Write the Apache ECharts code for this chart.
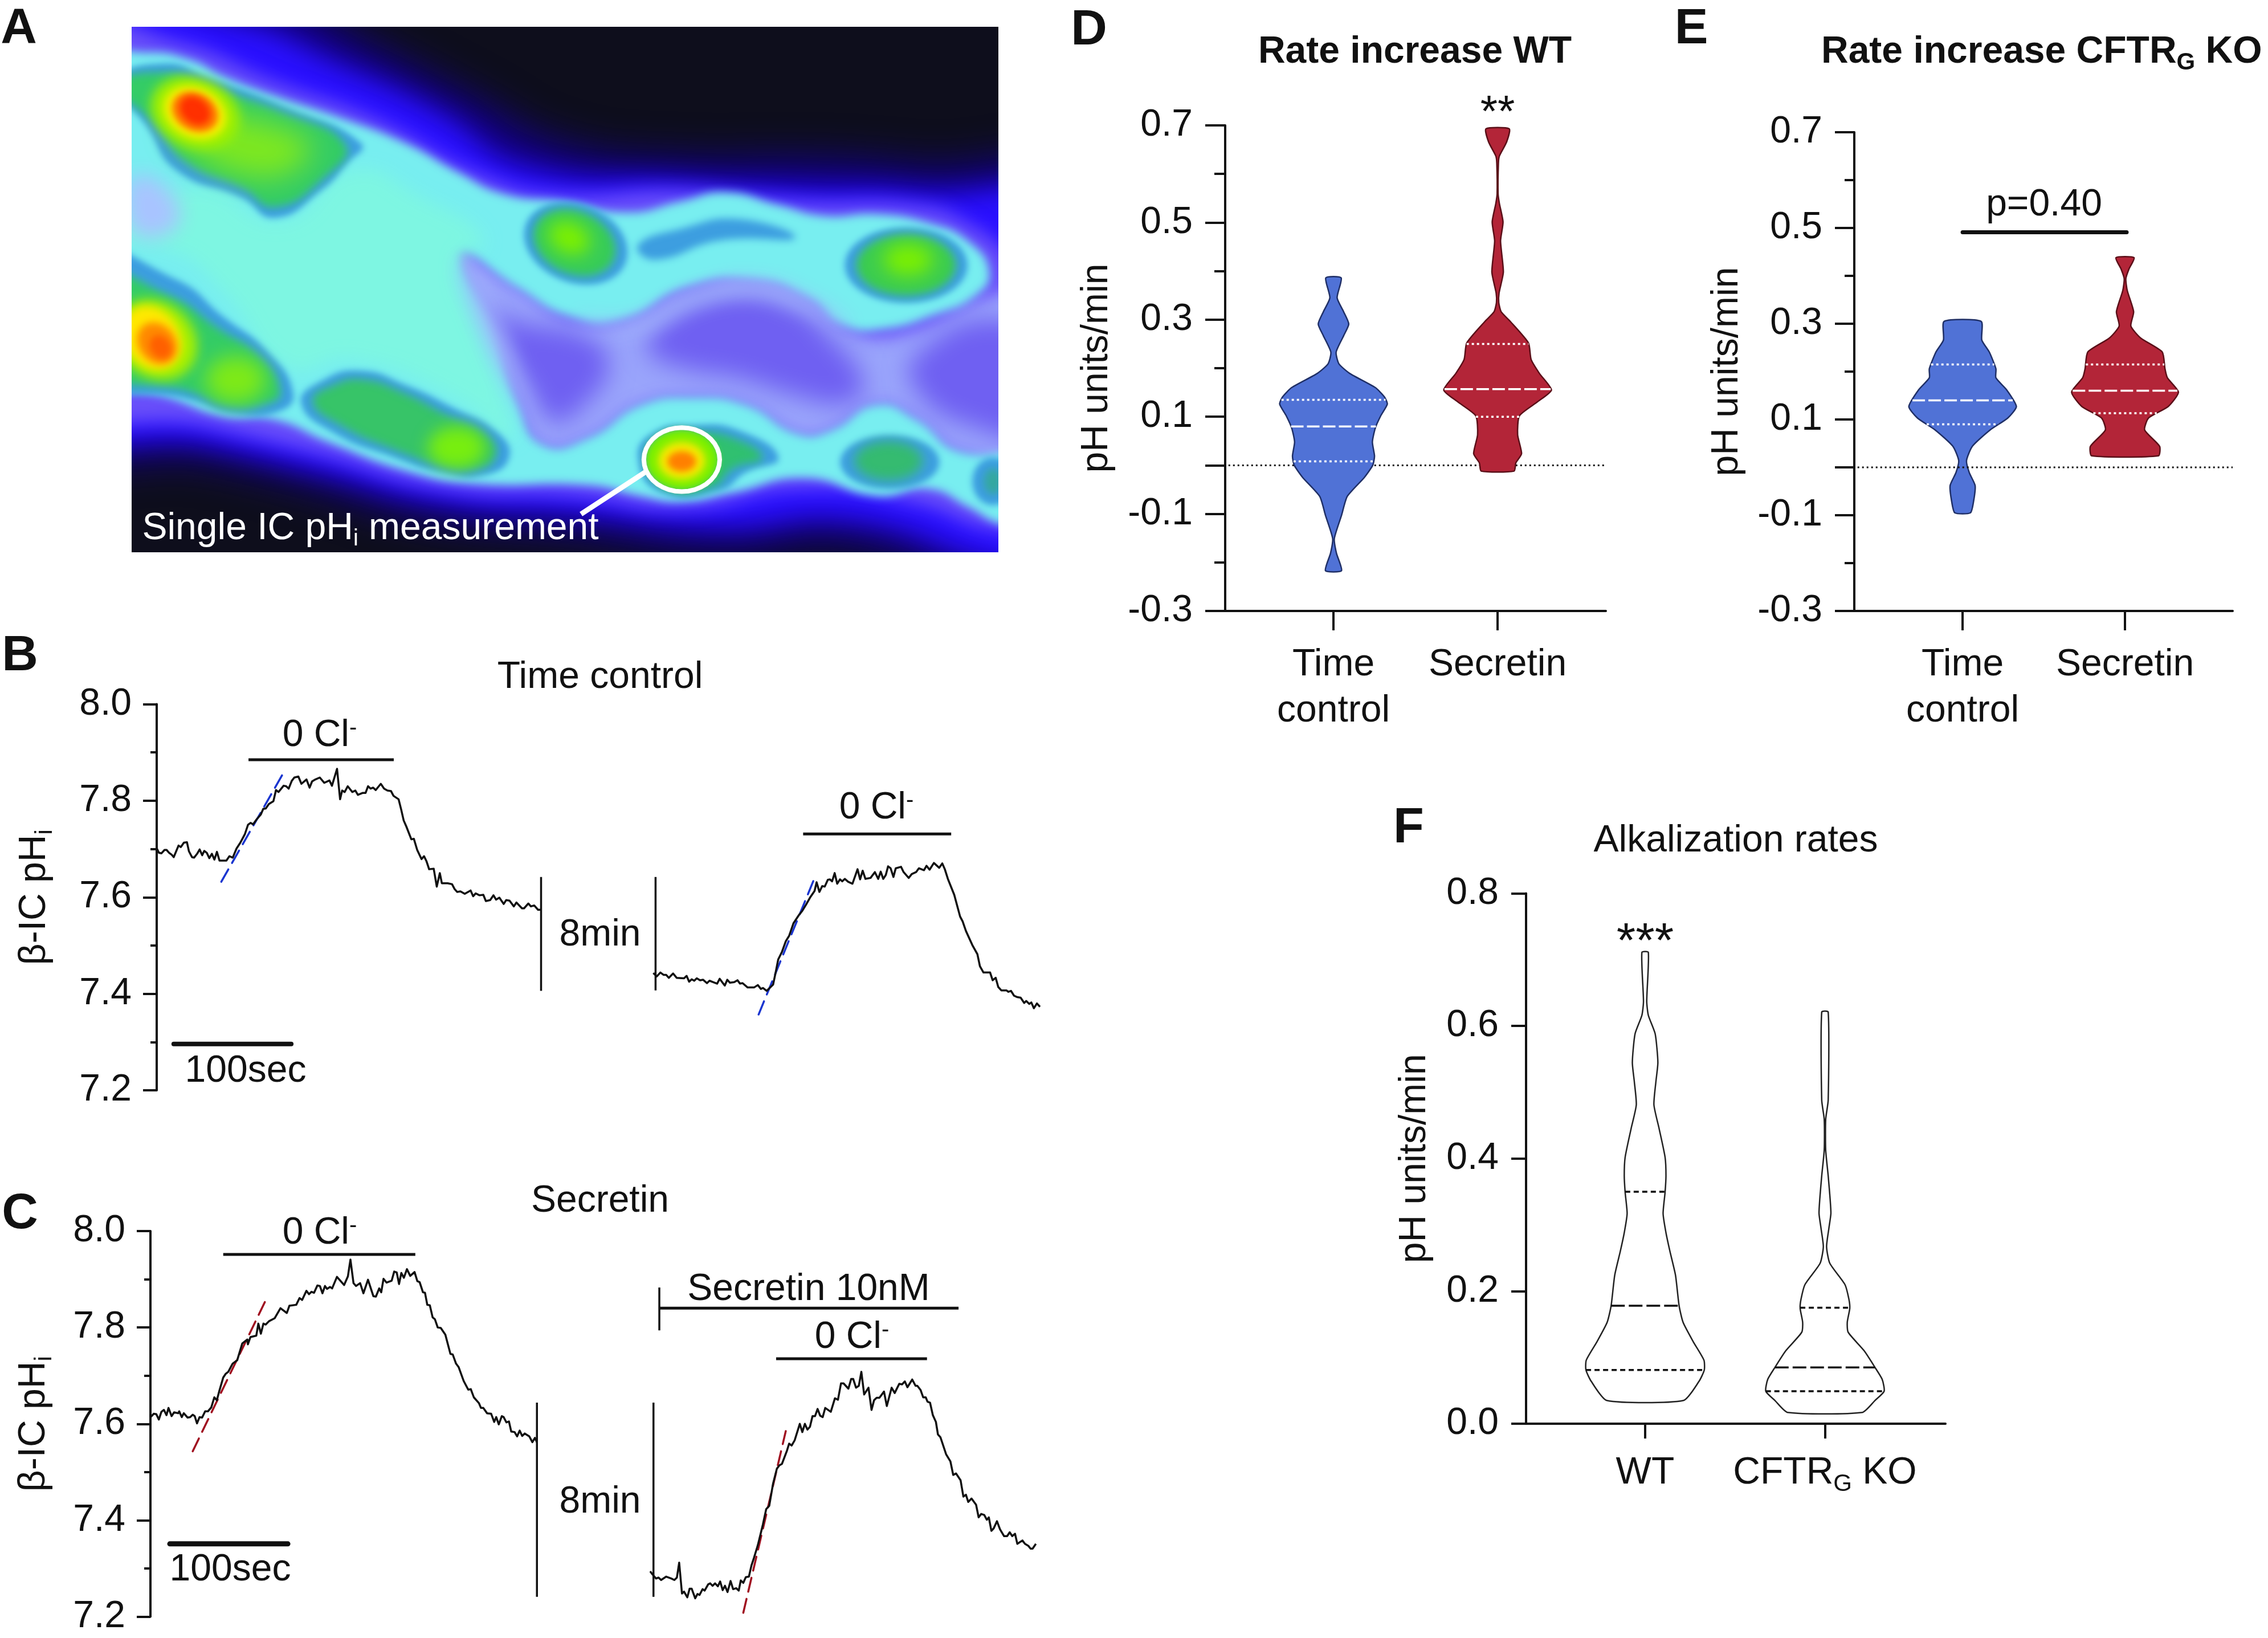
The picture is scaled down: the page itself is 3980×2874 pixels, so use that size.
<!DOCTYPE html>
<html><head><meta charset="utf-8">
<style>html,body{margin:0;padding:0;background:#fff}#c{width:3980px;height:2874px}</style>
<script src="https://cdn.jsdelivr.net/npm/echarts@6/dist/echarts.min.js"></script>
</head><body><div id="c"></div>
<script>
// ---------- Panels B, C: single-IC traces [time units, pH]
const traceBL=[[8,7.705],[20,7.692],[30,7.691],[42,7.698],[50,7.698],[60,7.692],[70,7.688],[78,7.683],[97,7.707],[106,7.704],[118,7.713],[130,7.714],[138,7.695],[150,7.683],[158,7.682],[170,7.690],[180,7.699],[190,7.687],[198,7.696],[208,7.692],[218,7.681],[228,7.690],[238,7.678],[248,7.694],[258,7.676],[285,7.676],[297,7.685],[310,7.682],[325,7.701],[340,7.713],[358,7.731],[370,7.750],[380,7.754],[390,7.751],[405,7.762],[420,7.771],[430,7.783],[440,7.784],[452,7.793],[470,7.799],[480,7.822],[490,7.818],[510,7.831],[520,7.830],[530,7.825],[542,7.841],[552,7.848],[568,7.850],[580,7.835],[600,7.844],[612,7.827],[622,7.840],[635,7.844],[652,7.848],[670,7.837],[690,7.842],[700,7.831],[720,7.866],[732,7.803],[740,7.821],[750,7.818],[762,7.830],[780,7.818],[792,7.821],[802,7.812],[820,7.816],[832,7.816],[842,7.830],[852,7.825],[862,7.827],[872,7.822],[892,7.835],[905,7.825],[918,7.821],[932,7.820],[942,7.810],[962,7.803],[972,7.782],[982,7.759],[992,7.747],[1012,7.720],[1022,7.721],[1035,7.698],[1052,7.679],[1062,7.685],[1072,7.674],[1082,7.658],[1100,7.659],[1112,7.622],[1124,7.650],[1132,7.629],[1155,7.629],[1172,7.627],[1182,7.617],[1192,7.611],[1205,7.612],[1222,7.607],[1245,7.614],[1255,7.602],[1265,7.608],[1280,7.604],[1295,7.605],[1305,7.592],[1322,7.594],[1335,7.604],[1345,7.595],[1358,7.599],[1375,7.586],[1385,7.594],[1398,7.593],[1415,7.581],[1425,7.589],[1447,7.577],[1455,7.577],[1472,7.587],[1482,7.581],[1495,7.583],[1510,7.574],[1522,7.574]];
const traceBR=[[14,7.443],[28,7.436],[42,7.444],[55,7.439],[65,7.439],[75,7.433],[92,7.442],[106,7.433],[135,7.432],[145,7.437],[155,7.425],[165,7.430],[175,7.427],[185,7.432],[198,7.428],[210,7.429],[225,7.422],[235,7.427],[250,7.424],[265,7.421],[275,7.431],[295,7.417],[305,7.429],[315,7.423],[332,7.424],[345,7.428],[355,7.421],[365,7.422],[385,7.413],[410,7.413],[425,7.418],[437,7.410],[445,7.412],[460,7.406],[485,7.419],[495,7.444],[505,7.471],[520,7.487],[535,7.509],[548,7.520],[565,7.546],[585,7.562],[600,7.572],[615,7.585],[630,7.599],[648,7.613],[656,7.631],[667,7.611],[678,7.623],[688,7.622],[700,7.636],[708,7.637],[717,7.633],[727,7.650],[737,7.628],[748,7.637],[757,7.633],[767,7.638],[780,7.632],[797,7.628],[817,7.658],[827,7.637],[837,7.655],[848,7.638],[868,7.640],[885,7.652],[898,7.638],[908,7.653],[918,7.638],[928,7.646],[937,7.664],[947,7.660],[958,7.642],[967,7.660],[988,7.663],[998,7.652],[1018,7.640],[1030,7.648],[1047,7.652],[1058,7.660],[1078,7.656],[1088,7.665],[1100,7.657],[1117,7.671],[1138,7.661],[1150,7.670],[1160,7.658],[1172,7.638],[1197,7.605],[1220,7.560],[1230,7.550],[1243,7.530],[1268,7.501],[1288,7.482],[1298,7.457],[1312,7.444],[1338,7.444],[1348,7.428],[1360,7.433],[1370,7.414],[1382,7.407],[1402,7.407],[1410,7.404],[1420,7.406],[1432,7.396],[1445,7.393],[1458,7.392],[1472,7.381],[1480,7.385],[1492,7.379],[1500,7.382],[1510,7.370],[1522,7.380],[1534,7.373]];
const traceCL=[[10,7.614],[22,7.621],[32,7.620],[42,7.609],[52,7.625],[62,7.629],[72,7.618],[80,7.633],[92,7.616],[102,7.624],[118,7.622],[122,7.626],[132,7.614],[140,7.622],[155,7.613],[165,7.614],[175,7.619],[183,7.616],[192,7.601],[202,7.614],[212,7.613],[224,7.626],[235,7.626],[248,7.634],[260,7.655],[270,7.649],[280,7.669],[295,7.696],[305,7.704],[315,7.708],[332,7.725],[350,7.732],[370,7.767],[390,7.775],[392,7.765],[402,7.780],[425,7.783],[433,7.808],[443,7.787],[453,7.808],[462,7.806],[475,7.813],[497,7.819],[520,7.840],[545,7.830],[555,7.845],[582,7.847],[595,7.861],[605,7.857],[622,7.876],[632,7.869],[642,7.874],[652,7.872],[665,7.887],[675,7.886],[685,7.871],[695,7.886],[703,7.880],[715,7.884],[723,7.881],[742,7.905],[770,7.888],[785,7.906],[795,7.941],[807,7.892],[817,7.886],[833,7.892],[846,7.871],[864,7.899],[885,7.865],[895,7.864],[908,7.881],[916,7.873],[925,7.901],[937,7.893],[957,7.897],[967,7.916],[977,7.914],[986,7.890],[995,7.913],[1005,7.903],[1017,7.921],[1030,7.907],[1047,7.915],[1058,7.896],[1067,7.894],[1080,7.873],[1088,7.872],[1097,7.847],[1107,7.846],[1118,7.821],[1127,7.817],[1138,7.800],[1150,7.799],[1168,7.785],[1188,7.745],[1197,7.744],[1210,7.725],[1220,7.718],[1240,7.689],[1258,7.671],[1268,7.672],[1280,7.655],[1300,7.643],[1308,7.633],[1317,7.633],[1332,7.622],[1348,7.621],[1360,7.604],[1368,7.614],[1378,7.599],[1390,7.616],[1397,7.614],[1408,7.603],[1418,7.605],[1427,7.584],[1440,7.583],[1450,7.574],[1460,7.586],[1470,7.575],[1480,7.580],[1498,7.574],[1510,7.562],[1520,7.571],[1528,7.562]];
const traceCR=[[2,7.294],[12,7.287],[25,7.279],[35,7.281],[45,7.276],[65,7.283],[85,7.279],[97,7.276],[107,7.281],[116,7.312],[127,7.248],[135,7.252],[148,7.240],[157,7.258],[165,7.258],[179,7.238],[188,7.247],[196,7.245],[208,7.257],[216,7.254],[230,7.267],[238,7.269],[247,7.264],[257,7.269],[268,7.263],[277,7.273],[287,7.255],[296,7.264],[306,7.251],[318,7.274],[328,7.257],[340,7.259],[350,7.254],[358,7.275],[368,7.270],[378,7.282],[390,7.283],[400,7.306],[410,7.322],[425,7.348],[445,7.391],[458,7.423],[470,7.430],[485,7.476],[500,7.507],[510,7.514],[520,7.517],[540,7.545],[548,7.559],[558,7.555],[570,7.566],[590,7.600],[600,7.583],[610,7.600],[620,7.588],[630,7.594],[640,7.616],[650,7.616],[660,7.631],[670,7.617],[680,7.614],[690,7.633],[712,7.625],[728,7.653],[740,7.650],[752,7.684],[762,7.684],[781,7.673],[792,7.693],[800,7.693],[811,7.675],[822,7.679],[832,7.708],[843,7.661],[860,7.675],[872,7.629],[882,7.649],[892,7.654],[903,7.654],[921,7.667],[932,7.637],[951,7.675],[963,7.664],[981,7.683],[992,7.682],[1003,7.688],[1013,7.676],[1032,7.692],[1045,7.679],[1052,7.679],[1065,7.670],[1075,7.655],[1085,7.655],[1092,7.646],[1102,7.644],[1113,7.618],[1125,7.604],[1133,7.578],[1143,7.572],[1165,7.537],[1182,7.522],[1193,7.494],[1204,7.497],[1222,7.483],[1233,7.449],[1243,7.453],[1252,7.438],[1265,7.445],[1283,7.432],[1293,7.406],[1303,7.413],[1315,7.411],[1325,7.401],[1333,7.406],[1343,7.378],[1352,7.383],[1365,7.398],[1377,7.381],[1393,7.367],[1405,7.367],[1415,7.375],[1425,7.367],[1436,7.372],[1445,7.351],[1465,7.358],[1475,7.351],[1488,7.347],[1497,7.341],[1505,7.341],[1518,7.351]];
const slopeBL=[[265,7.632],[512,7.860]], slopeBR=[[428,7.357],[652,7.645]];
const slopeCL=[[175,7.543],[468,7.863]], slopeCR=[[368,7.208],[535,7.585]];
const phTicks=[7.2,7.4,7.6,7.8,8.0], phMinor=[7.3,7.5,7.7,7.9];
const breakB=1949, breakC=1971; // time-axis position of the second recording after the 8 min gap

// ---------- Panels D, E, F: violins [value, half width]
const rateTicks=[-0.3,-0.1,0.1,0.3,0.5,0.7,0], rateMinor=[-0.2,0.2,0.4,0.6];
const rateTickLabels=[-0.3,-0.1,0.1,0.3,0.5,0.7];
const alkTicks=[0,0.2,0.4,0.6,0.8];
const groupsDE=['Time\ncontrol','Secretin'], groupsF=['WT','{t|CFTR}{s|G}{t| KO}'];
const violinDTime=[[.386,.047],[.345,.022],[.316,.062],[.291,.093],[.267,.062],[.233,.016],[.209,.033],[.189,.100],[.160,.255],[.141,.310],[.126,.328],[.102,.288],[.077,.255],[.048,.237],[.019,.250],[0,.239],[-.025,.188],[-.064,.084],[-.103,.049],[-.151,.005],[-.181,.018],[-.217,.049]];
const violinDSec=[[.693,.071],[.666,.055],[.637,.011],[.622,.005],[.559,.003],[.539,.011],[.501,.033],[.462,.018],[.398,.035],[.355,.009],[.335,.007],[.316,.022],[.296,.078],[.252,.188],[.218,.204],[.189,.255],[.155,.328],[.131,.244],[.102,.133],[.063,.122],[.024,.146],[.005,.111],[-.012,.100]];
const violinETime=[[.305,.114],[.266,.118],[.241,.164],[.206,.205],[.187,.205],[.162,.271],[.127,.331],[.103,.278],[.078,.169],[.044,.060],[.014,.024],[-.011,.041],[-.038,.077],[-.07,.068],[-.095,.048]];
const violinESec=[[.438,.056],[.414,.024],[.394,.005],[.369,.014],[.325,.053],[.295,.036],[.27,.097],[.241,.229],[.206,.246],[.187,.261],[.157,.329],[.127,.266],[.103,.145],[.078,.121],[.044,.213],[.024,.205]];
const violinFWT=[[.711,.018],[.637,.009],[.616,.018],[.588,.056],[.545,.071],[.516,.060],[.481,.049],[.445,.078],[.402,.111],[.374,.116],[.349,.111],[.317,.100],[.288,.116],[.26,.138],[.224,.169],[.178,.189],[.153,.211],[.124,.267],[.096,.327],[.081,.329],[.064,.300],[.035,.213]];
const violinFKO=[[.621,.018],[.488,.018],[.459,.004],[.413,.004],[.374,.018],[.338,.029],[.317,.033],[.295,.022],[.267,.009],[.242,.027],[.21,.111],[.188,.133],[.174,.138],[.153,.124],[.138,.129],[.11,.218],[.085,.278],[.067,.318],[.049,.329],[.035,.278],[.017,.207]];
const quartDTime=[.135,.08,.008], quartDSec=[.25,.157,.1], quartETime=[.215,.14,.09], quartESec=[.215,.16,.113];
const quartFWT=[.35,.178,.081], quartFKO=[.175,.085,.049];

// ---------- Panel A: fluorescence image as contour layers (image coordinates)
const imgBlue='#2a10ff';
const heatLayers=[
{c:'#0e0e1c',b:0,p:[[150,40],[1600,40],[1600,1560],[150,1560]]},
{c:'#14008c',b:70,p:[[100,-40],[420,-10],[560,120],[720,270],[860,400],[1040,440],[1230,440],[1400,460],[1650,520],[1700,1640],[1526,1640],[1300,1500],[1100,1520],[880,1470],[660,1430],[480,1340],[320,1270],[100,1190]]},
{c:imgBlue,b:46,p:[[100,20],[360,60],[520,180],[670,310],[800,460],[1040,500],[1230,520],[1400,530],[1650,600],[1680,1600],[1526,1550],[1300,1430],[1100,1450],[880,1410],[680,1380],[480,1290],[320,1220],[100,1130]]},
{c:'#6a50fa',b:32,p:[[100,80],[270,115],[420,225],[570,325],[740,485],[850,535],[1040,525],[1230,555],[1400,565],[1480,615],[1550,720],[1620,900],[1620,1440],[1526,1460],[1400,1385],[1230,1345],[1040,1400],[880,1365],[680,1345],[480,1245],[320,1175],[100,1075]]},
{c:'#9aa5fb',b:30,p:[[690,690],[800,800],[870,880],[950,890],[1050,800],[1150,770],[1230,820],[1300,910],[1380,920],[1526,810],[1620,800],[1620,1260],[1470,1250],[1400,1160],[1340,1120],[1270,1190],[1220,1200],[1140,1120],[1060,1100],[980,1120],[900,1210],[830,1230],[790,1110],[750,900]]},
{c:'#6f60f2',b:44,p:[[730,860],[800,890],[900,930],[930,1000],[900,1100],[845,1160],[805,1060],[760,950]]},
{c:'#6f60f2',b:44,p:[[1020,880],[1100,810],[1200,830],[1270,930],[1320,1060],[1290,1110],[1220,1090],[1130,1040],[1040,1010],[990,960]]},
{c:'#6f60f2',b:44,p:[[1400,980],[1526,880],[1620,1000],[1620,1200],[1480,1170],[1400,1070]]},
{c:'#78eef0',b:16,p:[[100,165],[225,145],[290,165],[340,210],[420,265],[520,325],[620,395],[700,475],[770,535],[860,555],[960,585],[1040,555],[1110,530],[1190,565],[1260,595],[1340,590],[1420,615],[1480,665],[1512,750],[1490,815],[1430,865],[1350,905],[1290,895],[1235,820],[1150,770],[1050,790],[950,880],[870,870],[790,790],[700,690],[750,900],[790,1110],[830,1225],[900,1205],[980,1115],[1060,1095],[1140,1115],[1220,1195],[1270,1185],[1340,1115],[1400,1155],[1470,1245],[1620,1255],[1620,1480],[1526,1440],[1480,1395],[1420,1345],[1340,1365],[1230,1315],[1120,1355],[1040,1380],[980,1365],[900,1335],[720,1330],[620,1295],[500,1215],[420,1155],[340,1145],[260,1095],[100,1005]]},
{c:'#7ef6e2',b:30,p:[[100,640],[300,520],[430,610],[540,470],[640,540],[740,660],[700,720],[730,900],[770,1100],[780,1210],[700,1100],[540,990],[440,1010],[340,800],[260,690],[100,660]]},
{c:'#a3b8fb',b:34,p:[[705,715],[765,900],[805,1110],[835,1205],[800,1120],[735,900]]},
{c:'#a3b8fb',b:34,p:[[880,875],[960,885],[1060,805],[1150,775],[1240,825],[1300,905],[1230,850],[1150,810],[1060,840],[960,915]]},
{c:'#a9c4ff',b:34,p:[[201,490],[255,520],[270,620],[205,640]]},
{c:'#3d9ee0',b:14,p:[[975,675],[1040,630],[1130,603],[1215,655],[1100,662],[1000,715]]},
{c:'#3d9ee0',b:12,p:[[180,225],[250,175],[320,215],[430,290],[552,395],[530,450],[490,525],[420,600],[370,545],[270,470],[225,350]]},
{c:'#34cc66',b:16,p:[[180,235],[255,200],[320,240],[430,310],[528,400],[495,490],[420,570],[370,515],[285,445],[240,345]]},
{c:'#7ee820',b:50,p:[[290,290],[340,310],[450,365],[475,410],[435,480],[370,480],[300,420],[265,350]]},
{c:'#3d9ee0',b:12,p:[[130,695],[270,770],[340,870],[410,970],[448,1080],[430,1130],[360,1140],[290,1100],[130,1030]]},
{c:'#34cc66',b:16,p:[[130,745],[260,815],[330,900],[398,985],[428,1080],[408,1110],[350,1118],[290,1078],[130,1005]]},
{c:'#7eea18',b:34,e:[360,1045,46,64,0]},
{c:'#3d9ee0',b:12,p:[[460,1110],[490,1050],[550,1020],[620,1060],[690,1120],[760,1190],[778,1260],[740,1308],[680,1303],[600,1258],[510,1192]]},
{c:'#37c468',b:16,p:[[478,1105],[510,1060],[555,1045],[615,1080],[680,1140],[748,1205],[756,1260],[725,1290],[680,1283],[600,1236],[520,1170]]},
{c:'#78ee10',b:28,e:[698,1232,44,58,0]},
{c:'#3d9ee0',b:12,e:[880,670,76,116,-15]},
{c:'#38cc58',b:16,e:[878,668,60,94,-15]},
{c:'#7cf000',b:30,e:[870,655,30,48,-15]},
{c:'#3d9ee0',b:12,e:[1385,730,94,104,0]},
{c:'#3ccc50',b:16,e:[1385,730,76,84,0]},
{c:'#7cf000',b:32,e:[1388,715,38,44,0]},
{c:'#3d9ee0',b:12,p:[[975,1260],[1000,1190],[1060,1170],[1130,1185],[1190,1260],[1140,1300],[1100,1350],[1010,1355]]},
{c:'#30c070',b:16,p:[[990,1260],[1010,1200],[1060,1190],[1120,1205],[1165,1260],[1120,1290],[1090,1340],[1020,1345]]},
{c:'#3d9ee0',b:12,e:[1360,1272,76,74,0]},
{c:'#35bb70',b:20,e:[1358,1268,52,54,0]},
{c:'#3d9ee0',b:12,e:[1518,1325,32,66,0]},
{c:'#35a8a0',b:14,e:[1518,1325,14,36,0]},
{c:'#a0f000',b:20,e:[298,310,66,102,-12]},
{c:'#f4f000',b:14,e:[298,310,46,74,-12]},
{c:'#ff7800',b:12,e:[298,308,34,56,-12]},
{c:'#ff3000',b:12,e:[298,305,22,40,-12]},
{c:'#a8f000',b:20,e:[238,935,62,112,-8]},
{c:'#ffe800',b:16,e:[232,930,44,88,-8]},
{c:'#ff8a00',b:14,e:[240,945,30,58,-8]},
{c:'#ff6000',b:12,e:[245,955,16,32,-8]},
{c:'#7cf000',b:12,e:[1042,1265,56,84,0]},
{c:'#f6ea00',b:14,e:[1042,1268,36,52,0]},
{c:'#ff8000',b:12,e:[1042,1270,22,28,0]}
];
const cellRing=[1042,1265,58,88,0], cellPointer=[[990,1295],[888,1415]];

// ---------- Styles
const FONT='"Liberation Sans",Arial,Helvetica,sans-serif', FS=66, INK='#111';
const sub={fontSize:42,fontFamily:FONT,color:INK,fill:INK,verticalAlign:'bottom',padding:[36,0,0,0]};
const txt={fontSize:FS,fontFamily:FONT,color:INK,fill:INK};

const grids=[],xAxes=[],yAxes=[],series=[];
function addGrid(g,xmin,xmax,ymin,ymax,major,minor,opt){
  const gi=grids.length;
  grids.push(Object.assign({show:false,containLabel:false},g));
  const xa={gridIndex:gi,type:'value',min:xmin,max:xmax,splitLine:{show:false},axisLabel:{show:false},axisTick:{show:false},axisLine:{show:false}};
  if(opt.xTicks){
    xa.axisLine={show:true,onZero:false,lineStyle:{color:INK,width:4}};
    xa.axisTick={show:true,length:opt.xTickLen,lineStyle:{color:INK,width:4},customValues:opt.xTicks};
    xa.axisLabel={show:true,margin:opt.xMargin,fontSize:FS,fontFamily:FONT,color:INK,lineHeight:81,customValues:opt.xTicks,hideOverlap:false,
      formatter:v=>opt.xNames[opt.xTicks.indexOf(v)],rich:{t:txt,s:sub}};
  }
  xAxes.push(xa);
  const xi=xAxes.length-1;
  const yi=yAxes.length;
  yAxes.push({gridIndex:gi,type:'value',position:'left',min:ymin,max:ymax,splitLine:{show:false},
    axisLine:{show:true,onZero:false,lineStyle:{color:INK,width:4}},
    axisTick:{show:true,length:opt.tick,lineStyle:{color:INK,width:4},customValues:major},
    axisLabel:{show:true,margin:opt.margin,fontSize:FS,fontFamily:FONT,color:INK,customValues:opt.labels||major,hideOverlap:false,formatter:v=>v.toFixed(1)},
    name:opt.name,nameLocation:'middle',nameGap:opt.nameGap,nameTextStyle:Object.assign({},txt,{rich:{t:txt,s:sub}})});
  if(minor){
    yAxes.push({gridIndex:gi,type:'value',position:'left',min:ymin,max:ymax,splitLine:{show:false},
      axisLine:{show:false},axisLabel:{show:false},
      axisTick:{show:true,length:opt.minorTick,lineStyle:{color:INK,width:4},customValues:minor}});
  }
  return {x:xi,y:yi};
}
function line(ax,pts,color,width,dash,cap,z){
  series.push({type:'line',xAxisIndex:ax.x,yAxisIndex:ax.y,data:pts,showSymbol:false,symbol:'none',silent:true,animation:false,clip:false,z:z||3,
    lineStyle:{color:color,width:width,type:dash||'solid',cap:cap||'butt',join:'round'}});
}
const shift=(pts,d)=>pts.map(p=>[p[0]+d,p[1]]);

// ---------- Panel A
const gA=addGrid({left:231,top:47,width:1521,height:922},201,1526,74,1520,[],null,{tick:0,margin:0});
Object.assign(yAxes[gA.y],{inverse:true,axisLine:{show:false},axisTick:{show:false},axisLabel:{show:false},name:''});
function ell(e){const r=[];const a=e[4]*Math.PI/180;for(let i=0;i<36;i++){const t=i/36*2*Math.PI,u=e[2]*Math.cos(t),v=e[3]*Math.sin(t);r.push([e[0]+u*Math.cos(a)-v*Math.sin(a),e[1]+u*Math.sin(a)+v*Math.cos(a)]);}return r;}
const OFF=6000;
series.push({type:'custom',xAxisIndex:gA.x,yAxisIndex:gA.y,silent:true,animation:false,z:1,clip:false,
  data:heatLayers.map((l,i)=>[i]),
  renderItem:function(params,api){
    const l=heatLayers[params.dataIndex], cs=params.coordSys;
    const pts=(l.p||ell(l.e)).map(p=>api.coord(p));
    const blur=l.b>0;
    return {type:'polygon',shape:{points:blur?pts.map(p=>[p[0]-OFF,p[1]]):pts,smooth:(blur&&l.p)?0.5:0},
      style:blur?{fill:l.c,shadowColor:l.c,shadowBlur:l.b,shadowOffsetX:OFF,shadowOffsetY:0}:{fill:l.c},
      clipPath:{type:'rect',shape:{x:cs.x,y:cs.y,width:cs.width,height:cs.height}}};
  }});
series.push({type:'custom',xAxisIndex:gA.x,yAxisIndex:gA.y,silent:true,animation:false,z:2,data:[[0]],
  renderItem:function(params,api){
    return {type:'group',children:[
      {type:'polygon',shape:{points:ell(cellRing).map(p=>api.coord(p))},style:{fill:'none',stroke:'#fff',lineWidth:8}},
      {type:'line',shape:{x1:api.coord(cellPointer[0])[0],y1:api.coord(cellPointer[0])[1],x2:api.coord(cellPointer[1])[0],y2:api.coord(cellPointer[1])[1]},style:{stroke:'#fff',lineWidth:9}}
    ]};
  }});

// ---------- Panels B, C
const TR=3.5;
const axB=addGrid({left:275,top:1235.5,width:1575,height:677.5},11.2,3539,7.2,8.0,phTicks,phMinor,{tick:24,minorTick:11,margin:44,nameGap:175,name:'{t|β-IC pH}{s|i}'});
line(axB,traceBL,INK,TR);
line(axB,shift(traceBR,breakB),INK,TR);
line(axB,slopeBL,'#1a35d0',3.5,[25,13],'round',2);
line(axB,shift(slopeBR,breakB),'#1a35d0',3.5,[25,13],'round',2);
line(axB,[[372,7.885],[943,7.885]],INK,5);
line(axB,shift([[603,7.731],[1185,7.731]],breakB),INK,5);
line(axB,[[78,7.296],[540,7.296]],INK,8,'solid','round');
line(axB,[[1522,7.642],[1522,7.406]],INK,3.5);
line(axB,shift([[23,7.642],[23,7.407]],breakB),INK,3.5);

const axC=addGrid({left:264,top:2160,width:1586,height:676.5},8.96,3561,7.2,8.0,phTicks,phMinor,{tick:24,minorTick:11,margin:44,nameGap:165,name:'{t|β-IC pH}{s|i}'});
line(axC,traceCL,INK,TR);
line(axC,shift(traceCR,breakC),INK,TR);
line(axC,slopeCL,'#a01020',3.5,[25,13],'round',2);
line(axC,shift(slopeCR,breakC),'#a01020',3.5,[25,13],'round',2);
line(axC,[[295,7.9515],[1050,7.9515]],INK,5);
line(axC,shift([[497,7.735],[1090,7.735]],breakC),INK,5);
line(axC,shift([[38,7.840],[1214,7.840]],breakC),INK,5);
line(axC,shift([[38,7.883],[38,7.794]],breakC),INK,3.5);
line(axC,[[85,7.351],[549,7.351]],INK,9,'solid','round');
line(axC,[[1528,7.644],[1528,7.241]],INK,3.5);
line(axC,shift([[15,7.644],[15,7.241]],breakC),INK,3.5);

// ---------- Violins
function hwAt(rows,v){
  for(let i=0;i<rows.length-1;i++){
    const a=rows[i],b=rows[i+1];
    if(v<=a[0]&&v>=b[0]) return a[1]+(b[1]-a[1])*(a[0]-v)/(a[0]-b[0]);
  }
  return 0;
}
function violin(ax,pos,rows,quarts,fill,stroke,lineColor,dashes,z){
  series.push({type:'custom',xAxisIndex:ax.x,yAxisIndex:ax.y,silent:true,animation:false,clip:false,z:z||4,
    data:rows.map(r=>[pos,r[0],r[1]]),
    renderItem:function(params,api){
      if(params.dataIndex!==0) return null;
      const left=rows.map(r=>api.coord([pos-r[1],r[0]]));
      const right=rows.slice().reverse().map(r=>api.coord([pos+r[1],r[0]]));
      const kids=[{type:'polygon',shape:{points:left.concat(right),smooth:0.2},style:{fill:fill,stroke:stroke,lineWidth:2.5}}];
      quarts.forEach((q,i)=>{
        const h=hwAt(rows,q),a=api.coord([pos-h,q]),b=api.coord([pos+h,q]);
        kids.push({type:'line',shape:{x1:a[0],y1:a[1],x2:b[0],y2:b[1]},style:{stroke:lineColor,lineWidth:3.5,lineDash:dashes[i]}});
      });
      return {type:'group',children:kids};
    }});
}
const BLUE='#5072d6',RED='#b32538',BLUE_E='#1f2f66',RED_E='#5a0f18';
const whiteDash=[[4,5],[22,6],[4,5]];

const posD=[.66,1.66],axD=addGrid({left:2150,top:220,width:668,height:852},0,668/288,-0.3,0.7,rateTicks,rateMinor,
 {tick:35,minorTick:19,margin:57,labels:rateTickLabels,nameGap:192,name:'pH units/min',xTicks:posD,xNames:groupsDE,xTickLen:34,xMargin:54});
line(axD,[[0.02,0],[668/288,0]],INK,3,[3,5],'butt',3);
violin(axD,posD[0],violinDTime,quartDTime,BLUE,BLUE_E,'#fff',whiteDash);
violin(axD,posD[1],violinDSec,quartDSec,RED,RED_E,'#fff',whiteDash);

const posE=[.667,1.667],axE=addGrid({left:3254,top:232,width:664,height:840},0,664/285,-0.3,0.7,rateTicks,rateMinor,
 {tick:34,minorTick:17,margin:56,labels:rateTickLabels,nameGap:190,name:'pH units/min',xTicks:posE,xNames:groupsDE,xTickLen:34,xMargin:54});
line(axE,[[0.02,0],[664/285,0]],INK,3,[3,5],'butt',5);
violin(axE,posE[0],violinETime,quartETime,BLUE,BLUE_E,'#fff',whiteDash);
violin(axE,posE[1],violinESec,quartESec,RED,RED_E,'#fff',whiteDash);
line(axE,[[posE[0],.491],[posE[1]+.01,.491]],INK,7,'solid','round');

const posF=[.662,1.662],axF=addGrid({left:2678,top:1567.5,width:736,height:930.5},0,736/315.6,0,0.8,alkTicks,null,
 {tick:26,margin:48,nameGap:162,name:'pH units/min',xTicks:posF,xNames:groupsF,xTickLen:26,xMargin:46});
violin(axF,posF[0],violinFWT,quartFWT,'#fff','#222',INK,[[9,6],[24,7],[9,6]]);
violin(axF,posF[1],violinFKO,quartFKO,'#fff','#222',INK,[[9,6],[24,7],[9,6]]);

// ---------- Free text
function T(x,y,text,o){
  return {type:'text',x:x,y:y+4,z:30,silent:true,style:Object.assign({text:text,fontSize:FS,fontFamily:FONT,fill:INK,align:'center',verticalAlign:'middle'},o||{})};
}
const bold={fontWeight:'bold'};
const clRich={text:'{n|0 Cl}{u|-}',rich:{n:txt,u:{fontSize:40,fontFamily:FONT,fill:INK,verticalAlign:'top'}}};
const labels=[
 T(33,47,'A',{fontSize:88,fontWeight:'bold'}),T(35,1148,'B',{fontSize:88,fontWeight:'bold'}),T(35,2127,'C',{fontSize:88,fontWeight:'bold'}),
 T(1911,50,'D',{fontSize:88,fontWeight:'bold'}),T(2968,48,'E',{fontSize:88,fontWeight:'bold'}),T(2472,1450,'F',{fontSize:88,fontWeight:'bold'}),
 T(650,924,'x',{text:'{w|Single IC pH}{i|i}{w| measurement}',rich:{w:{fontSize:FS,fontFamily:FONT,fill:'#fff'},i:{fontSize:40,fontFamily:FONT,fill:'#fff',verticalAlign:'bottom',padding:[36,0,0,0]}}}),
 T(1053,1185,'Time control'),T(561,1287,'',clRich),T(1538,1414,'',clRich),T(1053,1637,'8min'),T(431,1876,'100sec'),
 T(1053,2104,'Secretin'),T(561,2160,'',clRich),T(1419,2259,'Secretin 10nM'),T(1495,2343,'',clRich),T(1053,2632,'8min'),T(404,2751,'100sec'),
 T(2483,88,'Rate increase WT',bold),
 T(3196,88,'',{align:'left',text:'{b|Rate increase CFTR}{g|G}{b| KO}',rich:{b:{fontSize:FS,fontWeight:'bold',fontFamily:FONT,fill:INK},g:{fontSize:42,fontWeight:'bold',fontFamily:FONT,fill:INK,verticalAlign:'bottom',padding:[36,0,0,0]}}}),
 T(3046,1472,'Alkalization rates'),
 T(2628,196,'**',{fontSize:78}),T(3587,356,'p=0.40'),T(2887,1651,'***',{fontSize:86})
];

const chart=echarts.init(document.getElementById('c'),null,{renderer:'canvas',width:3980,height:2874});
chart.setOption({animation:false,backgroundColor:'#fff',grid:grids,xAxis:xAxes,yAxis:yAxes,series:series,graphic:{elements:labels}});
</script></body></html>
